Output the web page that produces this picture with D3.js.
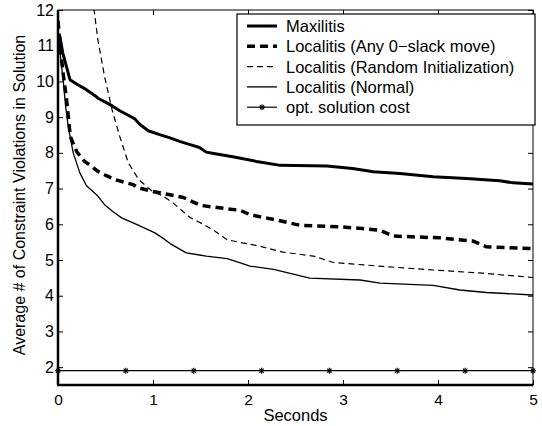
<!DOCTYPE html>
<html><head><meta charset="utf-8">
<script src="https://cdn.jsdelivr.net/npm/d3@7"></script>
<style>body{margin:0;background:#fff}svg{display:block}text{font-family:"Liberation Sans",Arial,sans-serif;fill:#000}</style>
</head><body><svg id="c" width="542" height="426"></svg>
<script>
const xTicks=[0,1,2,3,4,5];
const yTicks=[2,3,4,5,6,7,8,9,10,11,12];
const seriesNames=["Maxilitis","Localitis (Any 0\u2212slack move)","Localitis (Random Initialization)","Localitis (Normal)","opt. solution cost"];
const maxilitis=[[0,11.3],[0.02,11.25],[0.05,10.8],[0.126,10.05],[0.2,9.92],[0.28,9.8],[0.39,9.6],[0.42,9.53],[0.5,9.42],[0.58,9.3],[0.65,9.18],[0.72,9.08],[0.81,8.95],[0.86,8.8],[0.95,8.62],[1.07,8.51],[1.18,8.42],[1.28,8.32],[1.39,8.23],[1.49,8.15],[1.56,8.02],[1.64,7.98],[1.84,7.89],[2.09,7.76],[2.34,7.65],[2.83,7.63],[3.1,7.56],[3.32,7.47],[3.6,7.42],[3.95,7.33],[4.3,7.28],[4.65,7.22],[4.79,7.16],[5,7.13]];
const anySlack=[[0,11.7],[0.03,10.8],[0.06,10.1],[0.09,9.5],[0.13,8.45],[0.2,8.02],[0.28,7.76],[0.34,7.65],[0.42,7.48],[0.51,7.36],[0.6,7.25],[0.79,7.11],[0.85,7.02],[1.0,6.92],[1.15,6.84],[1.32,6.75],[1.5,6.53],[1.7,6.46],[1.92,6.39],[2.02,6.27],[2.3,6.12],[2.55,5.97],[2.97,5.93],[3.2,5.88],[3.39,5.83],[3.53,5.67],[4.02,5.62],[4.37,5.53],[4.51,5.37],[5,5.32]];
const randomInit=[[0.3,14],[0.38,12],[0.42,11.16],[0.49,10.14],[0.57,9.2],[0.65,8.46],[0.74,7.72],[0.85,7.25],[0.99,6.93],[1.1,6.8],[1.21,6.6],[1.39,6.19],[1.5,6.04],[1.63,5.85],[1.78,5.57],[1.92,5.49],[2.1,5.4],[2.37,5.22],[2.69,5.11],[2.9,4.93],[3.42,4.82],[3.95,4.72],[4.47,4.63],[5,4.51]];
const normal=[[0,11.4],[0.03,10.6],[0.056,10.0],[0.08,9.3],[0.11,8.7],[0.16,8.0],[0.23,7.44],[0.3,7.08],[0.42,6.79],[0.49,6.55],[0.58,6.35],[0.67,6.18],[0.85,5.97],[1.02,5.76],[1.1,5.62],[1.18,5.46],[1.35,5.2],[1.49,5.14],[1.56,5.11],[1.78,5.04],[1.92,4.92],[2.02,4.83],[2.27,4.74],[2.65,4.49],[3.18,4.44],[3.39,4.35],[3.95,4.29],[4.23,4.16],[4.51,4.09],[5,4.02]];
const optCost=[[0,1.9],[0.714,1.9],[1.429,1.9],[2.143,1.9],[2.857,1.9],[3.571,1.9],[4.286,1.9],[5,1.9]];

const svg=d3.select("#c");
const L=58,R=533,T=10,B=385;
const x=d3.scaleLinear().domain([0,5]).range([L,R]);
const y=d3.scaleLinear().domain([1.5,12]).range([B,T]);

svg.append("defs").append("clipPath").attr("id","clip").append("rect").attr("x",L).attr("y",T).attr("width",R-L).attr("height",B-T);

const tl=5, fmt=d3.format("d");
svg.append("g").attr("transform",`translate(0,${B})`).call(d3.axisBottom(x).tickValues(xTicks).tickFormat(fmt).tickSizeInner(-tl).tickSizeOuter(0).tickPadding(9)).call(g=>{g.select(".domain").remove();g.selectAll("text").attr("font-size",15.5).attr("font-family",null);});
svg.append("g").attr("transform",`translate(0,${T})`).call(d3.axisTop(x).tickValues(xTicks).tickSizeInner(-tl).tickSizeOuter(0).tickFormat("")).call(g=>g.select(".domain").remove());
svg.append("g").attr("transform",`translate(${L},0)`).call(d3.axisLeft(y).tickValues(yTicks).tickFormat(fmt).tickSizeInner(-tl).tickSizeOuter(0).tickPadding(4)).call(g=>{g.select(".domain").remove();g.selectAll("text").attr("font-size",16).attr("font-family",null);});
svg.append("g").attr("transform",`translate(${R},0)`).call(d3.axisRight(y).tickValues(yTicks).tickSizeInner(-tl).tickSizeOuter(0).tickFormat("")).call(g=>g.select(".domain").remove());
svg.selectAll(".tick line").attr("stroke","#000").attr("stroke-width",1);
svg.append("rect").attr("x",L).attr("y",T).attr("width",R-L).attr("height",B-T).attr("fill","none").attr("stroke","#000").attr("stroke-width",1);
svg.append("line").attr("x1",L-1).attr("x2",R).attr("y1",B).attr("y2",B).attr("stroke","#000").attr("stroke-width",2.5);
svg.append("line").attr("x1",L).attr("x2",L).attr("y1",T).attr("y2",B).attr("stroke","#000").attr("stroke-width",2.5);

const line=d3.line().x(d=>x(d[0])).y(d=>y(d[1]));
const styles=[
 {data:maxilitis,w:3,dash:null},
 {data:anySlack,w:3.5,dash:"8,5"},
 {data:randomInit,w:1.2,dash:"6,4"},
 {data:normal,w:1.3,dash:null},
 {data:optCost,w:1.2,dash:null}
];
const pg=svg.append("g").attr("clip-path","url(#clip)");
styles.forEach(s=>{pg.append("path").attr("d",line(s.data)).attr("fill","none").attr("stroke","#000").attr("stroke-width",s.w).attr("stroke-dasharray",s.dash).attr("stroke-linejoin","round");});

function star(g,cx,cy,r){
  for(let a=0;a<4;a++){const ang=a*Math.PI/4;g.append("line").attr("x1",cx-r*Math.cos(ang)).attr("y1",cy-r*Math.sin(ang)).attr("x2",cx+r*Math.cos(ang)).attr("y2",cy+r*Math.sin(ang)).attr("stroke","#000").attr("stroke-width",1.1);}
}
const sg=svg.append("g");
optCost.forEach(d=>star(sg,x(d[0]),y(d[1]),3));

svg.append("text").attr("x",(L+R)/2).attr("y",421).attr("text-anchor","middle").attr("font-size",16.5).text("Seconds");
svg.append("text").attr("transform",`translate(25,195) rotate(-90)`).attr("text-anchor","middle").attr("font-size",16).text("Average # of Constraint Violations in Solution");

const lg=svg.append("g");
const lx=237,ly=14,lw=298,lh=111;
lg.append("rect").attr("x",lx).attr("y",ly).attr("width",lw).attr("height",lh).attr("fill","#fff").attr("stroke","#000").attr("stroke-width",1.2);
seriesNames.forEach((n,i)=>{
  const yy=ly+12+i*20.3;
  const s=styles[i];
  lg.append("line").attr("x1",247).attr("x2",277).attr("y1",yy).attr("y2",yy).attr("stroke","#000").attr("stroke-width",s.w).attr("stroke-dasharray",s.dash);
  if(i===4) star(lg,262,yy,3);
  lg.append("text").attr("x",286).attr("y",yy).attr("dy","0.36em").attr("font-size",16.5).text(n);
});
</script></body></html>
